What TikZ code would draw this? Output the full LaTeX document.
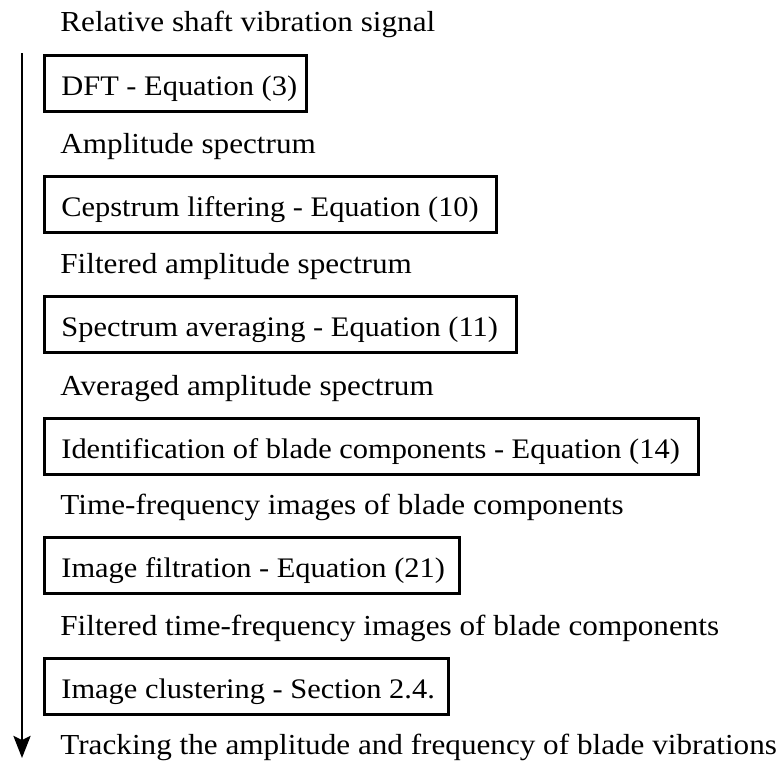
\documentclass[tikz,border=0pt]{standalone}
\usepackage{fontspec}
\setmainfont{Liberation Serif}[FakeStretch=1.075]
\usetikzlibrary{arrows.meta}
\newcommand{\boxtext}[2]{\makebox[#1][l]{#2}}
\begin{document}
\begin{tikzpicture}[x=0.5pt,y=-0.5pt,
  every node/.style={font=\fontsize{14.5}{17}\selectfont, inner sep=0pt},
  label text/.style={anchor=base west},
  stepbox/.style={draw, line width=1.4pt, anchor=north west, font=\fontsize{14.15}{17}\selectfont,
    text height=18pt, text depth=6pt, inner xsep=8.5pt, inner ysep=2pt},
  flow/.style={line width=1.4pt, -{Stealth[length=11pt,width=8.5pt,inset=2pt]}}]
\useasboundingbox (0,0) rectangle (780,760);
\node[label text] (l0) at (60,32) {Relative shaft vibration signal};
\node[stepbox] (b1) at (43,54) {\boxtext{114pt}{DFT - Equation (3)}};
\node[label text] (l1) at (60,153) {Amplitude spectrum};
\node[stepbox] (b2) at (43,175) {\boxtext{209pt}{Cepstrum liftering - Equation (10)}};
\node[label text] (l2) at (60,273) {Filtered amplitude spectrum};
\node[stepbox] (b3) at (43,295) {\boxtext{219pt}{Spectrum averaging - Equation (11)}};
\node[label text] (l3) at (60,395) {Averaged amplitude spectrum};
\node[stepbox] (b4) at (43,417) {\boxtext{310pt}{Identification of blade components - Equation (14)}};
\node[label text] (l4) at (60,514) {Time-frequency images of blade components};
\node[stepbox] (b5) at (43,536) {\boxtext{190.5pt}{Image filtration - Equation (21)}};
\node[label text] (l5) at (60,635) {Filtered time-frequency images of blade components};
\node[stepbox] (b6) at (43,657) {\boxtext{185pt}{Image clustering - Section 2.4.}};
\node[label text] (l6) at (60,754) {Tracking the amplitude and frequency of blade vibrations};
\coordinate (atop) at (22,53);
\coordinate (abot) at (22,758);
\draw[flow] (atop) -- (abot);
\end{tikzpicture}
\end{document}
